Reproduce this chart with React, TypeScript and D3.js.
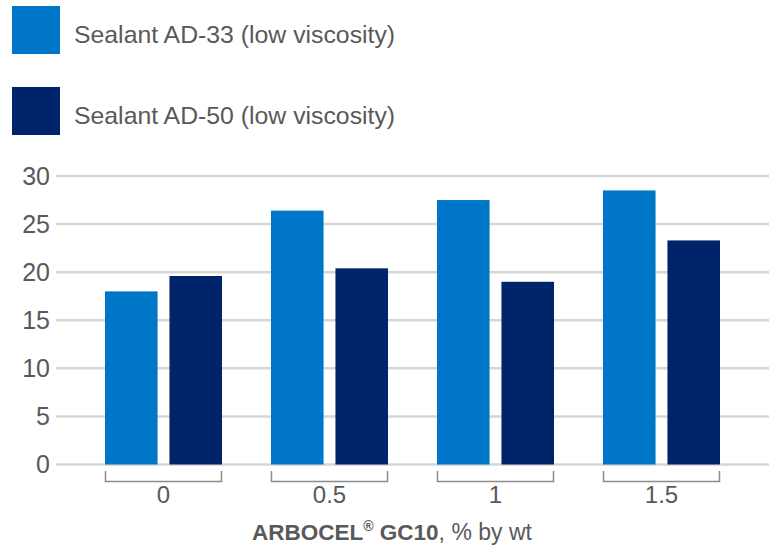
import React from "react";
import * as d3 from "d3";

const categories = ["0", "0.5", "1", "1.5"];
const seriesNames = ["Sealant AD-33 (low viscosity)", "Sealant AD-50 (low viscosity)"];
const ad33 = [18.0, 26.4, 27.5, 28.5];
const ad50 = [19.6, 20.4, 19.0, 23.3];
const yTicks = [0, 5, 10, 15, 20, 25, 30];
const colors = ["#0076c8", "#002469"];

const W = 774;
const H = 548;
const FONT = "'Liberation Sans', Arial, sans-serif";
const TEXT = "#595959";

export default function App() {
  const x = d3
    .scaleBand<string>()
    .domain(categories)
    .range([80.5, 744.5])
    .paddingInner(49 / 166)
    .paddingOuter(49 / 332);
  const sub = d3
    .scaleBand<string>()
    .domain(["a", "b"])
    .range([0, x.bandwidth()])
    .paddingInner(12 / 65);
  const y = d3.scaleLinear().domain([0, 30]).range([464.5, 176]);
  const series = [ad33, ad50];
  const subKeys = ["a", "b"];

  return (
    <svg
      width={W}
      height={H}
      style={{ position: "absolute", left: 0, top: 0, background: "#fff" }}
      fontFamily={FONT}
    >
      {/* legend */}
      {seriesNames.map((name, i) => (
        <g key={name} transform={`translate(12, ${6 + i * 81})`}>
          <rect width={48} height={48} fill={colors[i]} />
          <text x={62} y={36.5} fontSize={24.8} fill={TEXT}>
            {name}
          </text>
        </g>
      ))}

      {/* gridlines */}
      {yTicks.map((t) => (
        <g key={t}>
          <line x1={56} x2={769} y1={y(t)} y2={y(t)} stroke="#d6d6d6" strokeWidth={2.5} />
          <text
            x={50}
            y={y(t)}
            dy="0.35em"
            textAnchor="end"
            fontSize={25}
            fill={TEXT}
          >
            {t}
          </text>
        </g>
      ))}

      {/* bars */}
      {categories.map((c, ci) => (
        <g key={c} transform={`translate(${x(c)}, 0)`}>
          {series.map((vals, si) => (
            <rect
              key={si}
              x={sub(subKeys[si])}
              y={y(vals[ci])}
              width={sub.bandwidth()}
              height={y(0) - y(vals[ci])}
              fill={colors[si]}
            />
          ))}
          <path
            d={`M0.5,471 V481.5 H${x.bandwidth() - 0.5} V471`}
            fill="none"
            stroke="#8c8c8c"
            strokeWidth={1.5}
          />
          <text
            x={x.bandwidth() / 2}
            y={503}
            textAnchor="middle"
            fontSize={24}
            fill={TEXT}
          >
            {c}
          </text>
        </g>
      ))}

      {/* axis title */}
      <text x={252} y={540} fontSize={23} fill={TEXT}>
        <tspan fontWeight="bold" fontSize={22.5}>ARBOCEL</tspan>
        <tspan fontWeight="bold" fontSize={14} dy={-9}>®</tspan>
        <tspan fontWeight="bold" fontSize={22.5} dy={9}> GC10</tspan>
        <tspan>, % by wt</tspan>
      </text>
    </svg>
  );
}
